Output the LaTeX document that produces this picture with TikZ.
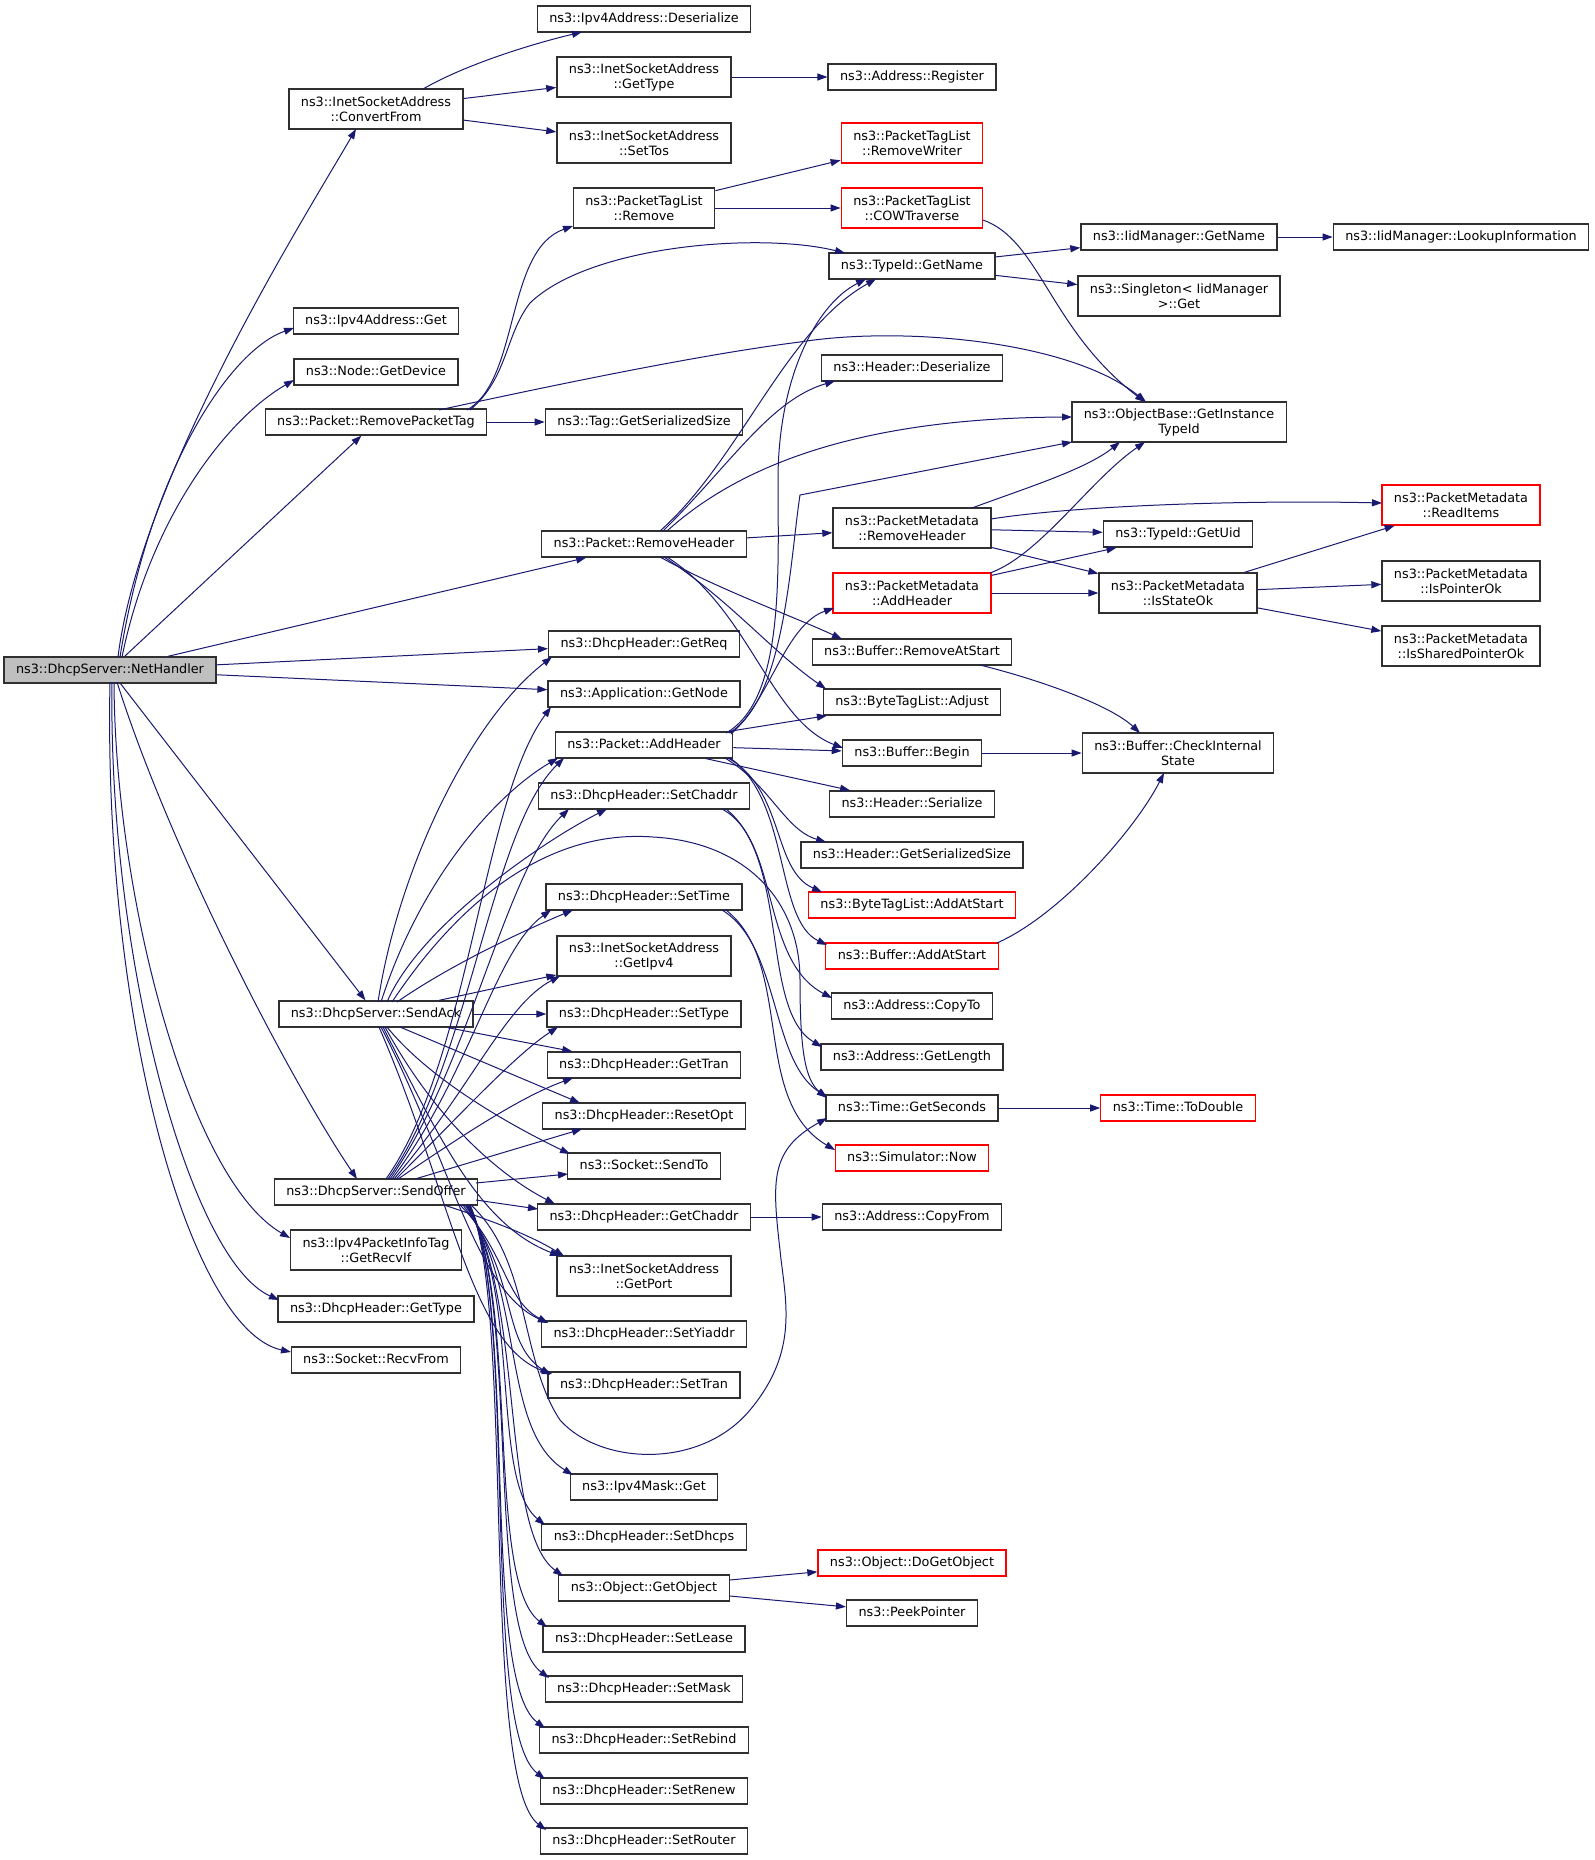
\documentclass[tikz,border=0pt]{standalone}
\usepackage{fontspec}
\newfontfamily\dvfont{DejaVu Sans}
\usetikzlibrary{arrows.meta,calc}
\definecolor{edgeblue}{RGB}{25,25,112}
\definecolor{nodegray}{RGB}{48,48,48}
\definecolor{rootgray}{RGB}{191,191,191}
\definecolor{nodered}{RGB}{255,0,0}
\newcommand\dgfont{\dvfont\fontsize{12.8pt}{15pt}\selectfont}
\begin{document}
\begin{tikzpicture}[x=1pt,y=-1pt,
  box/.style={draw=nodegray,line width=1.3pt,fill=white,inner xsep=12pt,inner ysep=0pt,
    minimum height=26pt,font=\dgfont,text height=9.6pt,text depth=2.8pt},
  box2/.style={draw=nodegray,line width=1.3pt,fill=white,inner xsep=12pt,inner ysep=0pt,
    minimum height=40pt,font=\dgfont,align=center},
  rb/.style={draw=nodered},
  conn/.style={draw=edgeblue,line width=1pt,-{Triangle[length=10pt,width=7pt]}}]
\fill[white] (0,0) rectangle (1595,1860);
\useasboundingbox (0,0) rectangle (1595,1860);
% column 1
\node[box,fill=rootgray] (nh) at (110,670) {ns3::DhcpServer::NetHandler};
% column 2
\node[box2] (cf) at (376,109) {ns3::InetSocketAddress\\::ConvertFrom};
\node[box] (i4g) at (376,321) {ns3::Ipv4Address::Get};
\node[box] (gdev) at (376,372) {ns3::Node::GetDevice};
\node[box] (rpt) at (376,422) {ns3::Packet::RemovePacketTag};
\node[box] (sa) at (376,1014) {ns3::DhcpServer::SendAck};
\node[box] (so) at (376,1192) {ns3::DhcpServer::SendOffer};
\node[box2] (rif) at (376,1250) {ns3::Ipv4PacketInfoTag\\::GetRecvIf};
\node[box] (dgt) at (376,1309) {ns3::DhcpHeader::GetType};
\node[box] (rf) at (376,1360) {ns3::Socket::RecvFrom};
% column 3
\node[box] (i4d) at (644,19) {ns3::Ipv4Address::Deserialize};
\node[box2] (isgt) at (644,77) {ns3::InetSocketAddress\\::GetType};
\node[box2] (stos) at (644,143) {ns3::InetSocketAddress\\::SetTos};
\node[box2] (ptr) at (644,208) {ns3::PacketTagList\\::Remove};
\node[box] (tgs) at (644,422) {ns3::Tag::GetSerializedSize};
\node[box] (prh) at (644,544) {ns3::Packet::RemoveHeader};
\node[box] (greq) at (644,644) {ns3::DhcpHeader::GetReq};
\node[box] (gnode) at (644,694) {ns3::Application::GetNode};
\node[box] (pah) at (644,745) {ns3::Packet::AddHeader};
\node[box] (sch) at (644,796) {ns3::DhcpHeader::SetChaddr};
\node[box] (stime) at (644,897) {ns3::DhcpHeader::SetTime};
\node[box2] (gip) at (644,956) {ns3::InetSocketAddress\\::GetIpv4};
\node[box] (stype) at (644,1014) {ns3::DhcpHeader::SetType};
\node[box] (gtran) at (644,1065) {ns3::DhcpHeader::GetTran};
\node[box] (ropt) at (644,1116) {ns3::DhcpHeader::ResetOpt};
\node[box] (sto) at (644,1166) {ns3::Socket::SendTo};
\node[box] (gch) at (644,1217) {ns3::DhcpHeader::GetChaddr};
\node[box2] (gport) at (644,1276) {ns3::InetSocketAddress\\::GetPort};
\node[box] (syi) at (644,1334) {ns3::DhcpHeader::SetYiaddr};
\node[box] (stran) at (644,1385) {ns3::DhcpHeader::SetTran};
\node[box] (mget) at (644,1487) {ns3::Ipv4Mask::Get};
\node[box] (sdh) at (644,1537) {ns3::DhcpHeader::SetDhcps};
\node[box] (gobj) at (644,1588) {ns3::Object::GetObject};
\node[box] (slease) at (644,1639) {ns3::DhcpHeader::SetLease};
\node[box] (smask) at (644,1689) {ns3::DhcpHeader::SetMask};
\node[box] (sreb) at (644,1740) {ns3::DhcpHeader::SetRebind};
\node[box] (sren) at (644,1791) {ns3::DhcpHeader::SetRenew};
\node[box] (srout) at (644,1841) {ns3::DhcpHeader::SetRouter};
% column 4
\node[box] (areg) at (912,77) {ns3::Address::Register};
\node[box2,rb] (rw) at (912,143) {ns3::PacketTagList\\::RemoveWriter};
\node[box2,rb] (cow) at (912,208) {ns3::PacketTagList\\::COWTraverse};
\node[box] (tgn) at (912,266) {ns3::TypeId::GetName};
\node[box] (hdes) at (912,368) {ns3::Header::Deserialize};
\node[box2] (pmrh) at (912,528) {ns3::PacketMetadata\\::RemoveHeader};
\node[box2,rb] (pmah) at (912,593) {ns3::PacketMetadata\\::AddHeader};
\node[box] (bras) at (912,652) {ns3::Buffer::RemoveAtStart};
\node[box] (btadj) at (912,702) {ns3::ByteTagList::Adjust};
\node[box] (bbeg) at (912,753) {ns3::Buffer::Begin};
\node[box] (hser) at (912,804) {ns3::Header::Serialize};
\node[box] (hgss) at (912,855) {ns3::Header::GetSerializedSize};
\node[box,rb] (btaas) at (912,905) {ns3::ByteTagList::AddAtStart};
\node[box,rb] (baas) at (912,956) {ns3::Buffer::AddAtStart};
\node[box] (acpt) at (912,1006) {ns3::Address::CopyTo};
\node[box] (alen) at (912,1057) {ns3::Address::GetLength};
\node[box] (tsec) at (912,1108) {ns3::Time::GetSeconds};
\node[box,rb] (snow) at (912,1158) {ns3::Simulator::Now};
\node[box] (acpf) at (912,1217) {ns3::Address::CopyFrom};
\node[box,rb] (dgo) at (912,1563) {ns3::Object::DoGetObject};
\node[box] (peek) at (912,1613) {ns3::PeekPointer};
% column 5
\node[box] (iidgn) at (1179,237) {ns3::IidManager::GetName};
\node[box2] (sing) at (1179,296) {ns3::Singleton< IidManager\\ >::Get};
\node[box2] (obti) at (1179,422) {ns3::ObjectBase::GetInstance\\TypeId};
\node[box] (guid) at (1178,534) {ns3::TypeId::GetUid};
\node[box2] (iso) at (1178,593) {ns3::PacketMetadata\\::IsStateOk};
\node[box2] (cis) at (1178,753) {ns3::Buffer::CheckInternal\\State};
\node[box,rb] (tdbl) at (1178,1108) {ns3::Time::ToDouble};
% column 6
\node[box] (look) at (1461,237) {ns3::IidManager::LookupInformation};
\node[box2,rb] (ri) at (1461,505) {ns3::PacketMetadata\\::ReadItems};
\node[box2] (ipo) at (1461,581) {ns3::PacketMetadata\\::IsPointerOk};
\node[box2] (ispo) at (1461,646) {ns3::PacketMetadata\\::IsSharedPointerOk};

% ---------- straight connectors
\draw[conn] (cf) -- (isgt);
\draw[conn] (cf) -- (stos);
\draw[conn] (isgt) -- (areg);
\draw[conn] (ptr) -- (rw);
\draw[conn] (ptr) -- (cow);
\draw[conn] (tgn) -- (iidgn);
\draw[conn] (tgn) -- (sing);
\draw[conn] (iidgn) -- (look);
\draw[conn] (rpt) -- (tgs);
\draw[conn] (prh) -- (pmrh);
\draw[conn] (pmrh) -- (guid);
\draw[conn] (pmrh) -- (iso);
\draw[conn] (pmah) -- (guid);
\draw[conn] (pmah) -- (iso);
\draw[conn] (iso) -- (ri);
\draw[conn] (iso) -- (ipo);
\draw[conn] (iso) -- (ispo);
\draw[conn] (bbeg) -- (cis);
\draw[conn] (tsec) -- (tdbl);
\draw[conn] (gch) -- (acpf);
\draw[conn] (gobj) -- (dgo);
\draw[conn] (gobj) -- (peek);
\draw[conn] (nh) -- (rpt);
\draw[conn] (nh) -- (prh);
\draw[conn] (nh) -- (greq);
\draw[conn] (nh) -- (gnode);
\draw[conn] (nh) -- (sa);
\draw[conn] (pah) -- (btadj);
\draw[conn] (pah) -- (bbeg);
\draw[conn] (pah) -- (hser);
\draw[conn] (sa) -- (stype);
\draw[conn] (sa) -- (gip);
\draw[conn] (sa) -- (gtran);

% ---------- NetHandler curves
\draw[conn] ($(nh)+(8,-13)$) .. controls (140,480) and (300,225) .. ($(cf)+(-20,20)$);
\draw[conn] ($(nh)+(10,-13)$) .. controls (150,470) and (230,350) .. ($(i4g)+(-82,7)$);
\draw[conn] ($(nh)+(12,-13)$) .. controls (150,520) and (225,420) .. ($(gdev)+(-82,8)$);
\draw[conn] ($(nh)+(7,12)$) .. controls (170,850) and (290,1080) .. ($(so)+(-19,-13)$);
\draw[conn] ($(nh)+(4,12)$) .. controls (115,900) and (190,1180) .. ($(rif)+(-86,-12)$);
\draw[conn] ($(nh)+(2,12)$) .. controls (108,960) and (190,1260) .. ($(dgt)+(-97,-9)$);
\draw[conn] ($(nh)+(0,12)$) .. controls (103,1020) and (190,1330) .. ($(rf)+(-85,-8)$);

% ---------- upper curves
\draw[conn] ($(cf)+(47,-20)$) .. controls (470,62) and (540,42) .. ($(i4d)+(-62,13)$);
\draw[conn] ($(cow)+(71,12)$) .. controls (1040,240) and (1050,330) .. ($(obti)+(-34,-20)$);
\draw[conn] ($(rpt)+(91,-12)$) .. controls (520,380) and (505,250) .. ($(ptr)+(-71,18)$);
\draw[conn] ($(rpt)+(94,-12)$) .. controls (508,378) and (505,335) .. (530,303)
   .. controls (590,245) and (760,232) .. ($(tgn)+(-67,-13)$);
\draw[conn] ($(rpt)+(63,-12)$) .. controls (600,375) and (720,352) .. (800,342)
   .. controls (900,326) and (1070,340) .. ($(obti)+(-33,-20)$);

% ---------- Packet::RemoveHeader
\draw[conn] ($(prh)+(16,-13)$) .. controls (740,460) and (785,330) .. ($(tgn)+(-36,13)$);
\draw[conn] ($(prh)+(19,-13)$) .. controls (730,465) and (770,400) .. ($(hdes)+(-77,13)$);
\draw[conn] ($(prh)+(23,-13)$) .. controls (740,465) and (860,418) .. ($(obti)+(-107,-5)$);
\draw[conn] ($(prh)+(16,13)$) .. controls (720,590) and (790,615) .. ($(bras)+(-70,-13)$);
\draw[conn] ($(prh)+(20,13)$) .. controls (730,600) and (770,650) .. ($(btadj)+(-86,-13)$);
\draw[conn] ($(prh)+(23,13)$) .. controls (750,610) and (770,720) .. ($(bbeg)+(-69,-5)$);

% ---------- PacketMetadata
\draw[conn] ($(pmrh)+(60,-20)$) .. controls (1020,490) and (1085,470) .. ($(obti)+(-59,20)$);
\draw[conn] ($(pmrh)+(79,-9)$) .. controls (1080,505) and (1250,500) .. ($(ri)+(-79,-2)$);
\draw[conn] ($(pmah)+(78,-20)$) .. controls (1040,555) and (1090,480) .. ($(obti)+(-34,20)$);

% ---------- Buffer
\draw[conn] ($(bras)+(68,13)$) .. controls (1040,680) and (1110,705) .. ($(cis)+(-38,-20)$);
\draw[conn] ($(baas)+(85,-13)$) .. controls (1060,915) and (1135,830) .. ($(cis)+(-14,20)$);

% ---------- Packet::AddHeader
\draw[conn] ($(pah)+(82,-12)$) .. controls (785,700) and (778,570) .. (778,480)
   .. controls (778,380) and (815,305) .. ($(tgn)+(-46,13)$);
\draw[conn] ($(pah)+(85,-12)$) .. controls (785,700) and (790,560) .. (800,495) -- ($(obti)+(-107,20)$);
\draw[conn] ($(pah)+(87,-11)$) .. controls (770,700) and (785,625) .. ($(pmah)+(-78,15)$);
\draw[conn] ($(pah)+(81,13)$) .. controls (770,785) and (785,830) .. ($(hgss)+(-86,-13)$);
\draw[conn] ($(pah)+(84,13)$) .. controls (785,790) and (772,870) .. ($(btaas)+(-90,-13)$);
\draw[conn] ($(pah)+(86,13)$) .. controls (790,800) and (775,920) .. ($(baas)+(-85,-11)$);

% ---------- SetChaddr, SetTime
\draw[conn] ($(sch)+(78,13)$) .. controls (780,840) and (760,960) .. ($(acpt)+(-80,-8)$);
\draw[conn] ($(sch)+(82,13)$) .. controls (790,860) and (760,1010) .. ($(alen)+(-90,-10)$);
\draw[conn] ($(stime)+(78,13)$) .. controls (780,945) and (770,1060) .. ($(tsec)+(-85,-11)$);
\draw[conn] ($(stime)+(82,13)$) .. controls (795,965) and (750,1100) .. ($(snow)+(-77,-8)$);

% ---------- SendAck
\draw[conn] ($(sa)+(2,-12)$) .. controls (398,870) and (470,720) .. ($(greq)+(-92,13)$);
\draw[conn] ($(sa)+(5,-12)$) .. controls (420,880) and (495,795) .. ($(pah)+(-86,13)$);
\draw[conn] ($(sa)+(11,-12)$) .. controls (420,925) and (545,840) .. ($(sch)+(-37,13)$);
\draw[conn] ($(sa)+(21,-12)$) .. controls (450,965) and (525,930) .. ($(stime)+(-71,13)$);
\draw[conn] ($(sa)+(16,-12)$) .. controls (470,885) and (560,830) .. (653,837)
   .. controls (745,842) and (800,900) .. (800,980)
   .. controls (800,1050) and (805,1080) .. ($(tsec)+(-85,-10)$);
\draw[conn] ($(sa)+(24,13)$) -- ($(ropt)+(-64,-13)$);
\draw[conn] ($(sa)+(11,13)$) .. controls (430,1080) and (510,1125) .. ($(sto)+(-74,-12)$);
\draw[conn] ($(sa)+(9,13)$) .. controls (430,1110) and (490,1170) .. ($(gch)+(-89,-13)$);
\draw[conn] ($(sa)+(7,13)$) .. controls (440,1140) and (480,1225) .. ($(gport)+(-84,-20)$);
\draw[conn] ($(sa)+(5,13)$) .. controls (450,1160) and (475,1290) .. ($(syi)+(-96,-11)$);
\draw[conn] ($(sa)+(3,13)$) .. controls (450,1190) and (470,1345) .. ($(stran)+(-92,-11)$);

% ---------- SendOffer
\draw[conn] ($(so)+(10,-13)$) .. controls (470,1060) and (482,800) .. ($(gnode)+(-93,13)$);
\draw[conn] ($(so)+(12,-13)$) .. controls (470,1065) and (490,830) .. ($(pah)+(-80,13)$);
\draw[conn] ($(so)+(14,-13)$) .. controls (470,1065) and (505,870) .. ($(sch)+(-75,13)$);
\draw[conn] ($(so)+(16,-13)$) .. controls (470,1075) and (495,950) .. ($(stime)+(-93,13)$);
\draw[conn] ($(so)+(18,-13)$) .. controls (470,1090) and (505,1005) .. ($(gip)+(-84,20)$);
\draw[conn] ($(so)+(20,-13)$) .. controls (460,1115) and (515,1055) .. ($(stype)+(-86,13)$);
\draw[conn] ($(so)+(22,-13)$) .. controls (470,1130) and (525,1095) .. ($(gtran)+(-71,13)$);
\draw[conn] ($(so)+(39,-13)$) -- ($(ropt)+(-62,13)$);
\draw[conn] ($(so)+(100,-9)$) -- ($(sto)+(-76,8)$);
\draw[conn] ($(so)+(100,8)$) -- ($(gch)+(-106,-8)$);
\draw[conn] ($(so)+(68,13)$) .. controls (490,1220) and (530,1235) .. ($(gport)+(-80,-20)$);
\draw[conn] ($(so)+(84,13)$) .. controls (505,1250) and (505,1300) .. ($(syi)+(-96,-11)$);
\draw[conn] ($(so)+(87,13)$) .. controls (520,1280) and (500,1340) .. ($(stran)+(-94,-10)$);
\draw[conn] ($(so)+(89,13)$) .. controls (525,1290) and (500,1430) .. ($(mget)+(-71,-12)$);
\draw[conn] ($(so)+(90,13)$) .. controls (522,1295) and (490,1480) .. ($(sdh)+(-99,-12)$);
\draw[conn] ($(so)+(91,13)$) .. controls (525,1300) and (500,1530) .. ($(gobj)+(-81,-12)$);
\draw[conn] ($(so)+(92,13)$) .. controls (520,1300) and (485,1580) .. ($(slease)+(-97,-12)$);
\draw[conn] ($(so)+(93,13)$) .. controls (520,1305) and (485,1630) .. ($(smask)+(-95,-11)$);
\draw[conn] ($(so)+(93,13)$) .. controls (518,1305) and (480,1680) .. ($(sreb)+(-99,-12)$);
\draw[conn] ($(so)+(94,13)$) .. controls (518,1310) and (480,1730) .. ($(sren)+(-99,-12)$);
\draw[conn] ($(so)+(94,13)$) .. controls (515,1310) and (480,1780) .. ($(srout)+(-98,-11)$);
\draw[conn] ($(so)+(95,13)$) .. controls (530,1260) and (520,1360) .. (560,1420)
   .. controls (600,1465) and (700,1470) .. (750,1410)
   .. controls (800,1350) and (785,1300) .. (780,1250)
   .. controls (772,1180) and (770,1150) .. ($(tsec)+(-85,10)$);
\end{tikzpicture}
\end{document}
